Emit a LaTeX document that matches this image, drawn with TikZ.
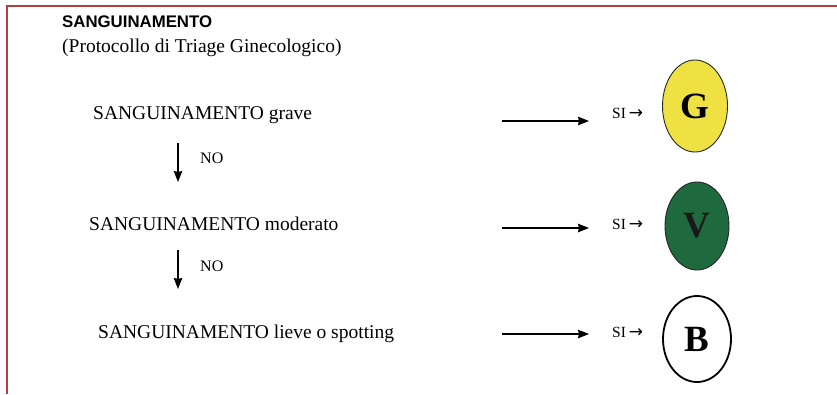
\documentclass[tikz,border=0pt]{standalone}
\usepackage{fontspec}
\setmainfont{Liberation Serif}
\setsansfont{Liberation Sans}
\newfontfamily\symfont{DejaVu Sans}
\usetikzlibrary{arrows.meta,shapes.geometric}
\definecolor{frame}{HTML}{B0413C}
\definecolor{codeyellow}{HTML}{EFE142}
\definecolor{codegreen}{HTML}{1E6A3E}
\tikzset{
  lbl/.style={anchor=base west, inner sep=0pt, font=\fontsize{19.5}{22}\selectfont},
  nolbl/.style={anchor=base west, inner sep=0pt, font=\fontsize{16}{18}\selectfont},
  silbl/.style={anchor=base west, inner sep=0pt, font=\fontsize{15.5}{17}\selectfont},
  code/.style={ellipse, draw=black!85, line width=0.9pt, inner sep=0pt,
    minimum width=65pt, minimum height=90pt, font=\bfseries\fontsize{37}{40}\selectfont},
  arr/.style={-{Stealth[length=11pt,width=8.5pt,inset=1pt]}, line width=1.3pt}
}
\newcommand{\sirow}{SI\kern3pt{\symfont\fontsize{17}{19}\selectfont →}}
\begin{document}
\begin{tikzpicture}[x=1pt,y=-1pt]
\useasboundingbox (0,0) rectangle (837,394);
% frame
\draw[frame, line width=2.6pt] (7,394) -- (7,6) -- (837,6);
% heading
\node[anchor=base west, inner sep=0pt, font=\sffamily\bfseries\fontsize{16.8}{19}\selectfont] (title) at (62,27) {SANGUINAMENTO};
\node[anchor=base west, inner sep=0pt, font=\fontsize{19.5}{22}\selectfont] (sub) at (62,52) {(Protocollo di Triage Ginecologico)};
% questions
\node[lbl] (q1) at (93,119) {SANGUINAMENTO grave};
\node[lbl] (q2) at (89,230) {SANGUINAMENTO moderato};
\node[lbl] (q3) at (98,338) {SANGUINAMENTO lieve o spotting};
% NO steps
\coordinate (d1a) at (178,143); \coordinate (d1b) at (178,182);
\coordinate (d2a) at (178,250); \coordinate (d2b) at (178,289);
\draw[arr] (d1a) -- (d1b);
\draw[arr] (d2a) -- (d2b);
\node[nolbl] (no1) at (200,163) {NO};
\node[nolbl] (no2) at (200,271) {NO};
% SI arrows
\coordinate (h1a) at (502,121); \coordinate (h1b) at (589,121);
\coordinate (h2a) at (502,228); \coordinate (h2b) at (589,228);
\coordinate (h3a) at (502,334); \coordinate (h3b) at (589,334);
\draw[arr] (h1a) -- (h1b);
\draw[arr] (h2a) -- (h2b);
\draw[arr] (h3a) -- (h3b);
\node[silbl] (si1) at (612,118) {\sirow};
\node[silbl] (si2) at (612,229) {\sirow};
\node[silbl] (si3) at (612,337) {\sirow};
% colour codes
\node[code, fill=codeyellow, minimum width=65pt, minimum height=92pt] (g) at (695,106) {G};
\node[code, fill=codegreen, text=black!90, minimum width=64pt, minimum height=88pt] (v) at (697,226) {V};
\node[code, fill=white, draw=black, line width=1.8pt, minimum width=68pt, minimum height=86pt] (b) at (697,339) {B};
\end{tikzpicture}
\end{document}
